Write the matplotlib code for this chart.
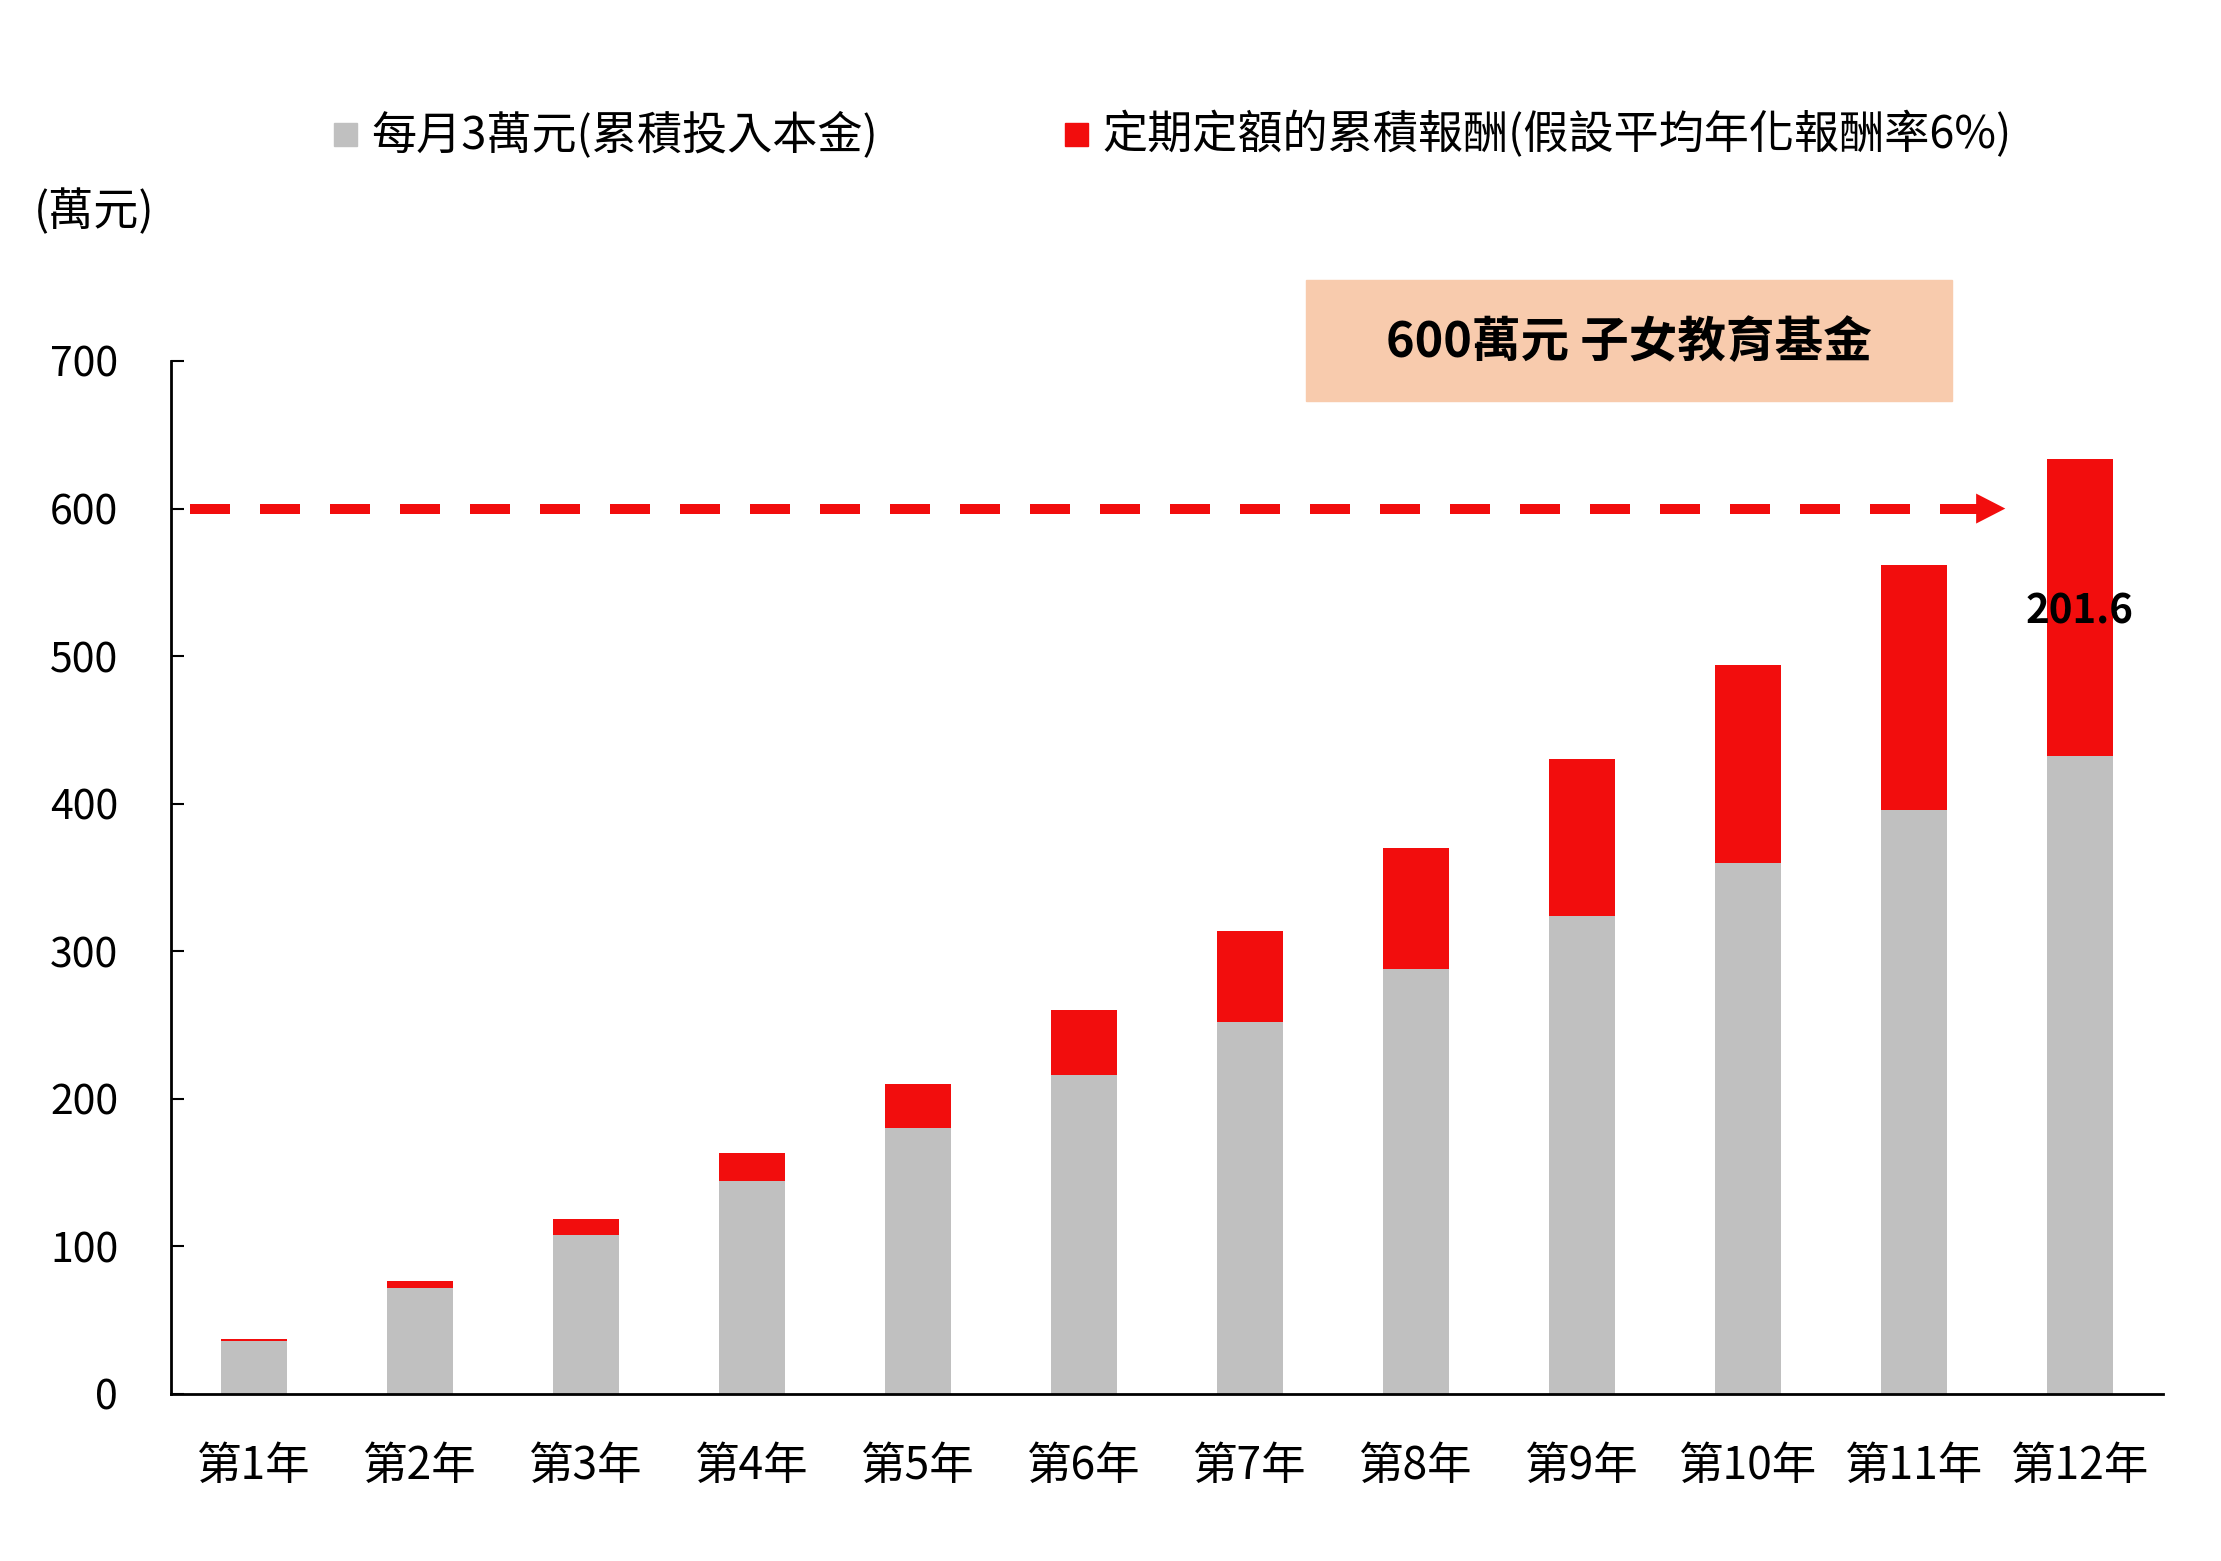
import matplotlib
matplotlib.use("Agg")
import matplotlib.pyplot as plt
from matplotlib.patches import Rectangle

plt.rcParams['font.family'] = ['Noto Sans CJK TC', 'DejaVu Sans']

# data
years = ['第1年', '第2年', '第3年', '第4年', '第5年', '第6年',
         '第7年', '第8年', '第9年', '第10年', '第11年', '第12年']
principal = [36, 72, 108, 144, 180, 216, 252, 288, 324, 360, 396, 432]
returns = [1.2, 4.7, 10.6, 19.1, 30.3, 44.5, 61.8, 82.3, 106.4, 134.1, 165.8, 201.6]
yticks = [0, 100, 200, 300, 400, 500, 600, 700]
goal = 600

label_principal = '每月3萬元(累積投入本金)'
label_returns = '定期定額的累積報酬(假設平均年化報酬率6%)'
goal_text = '600萬元 子女教育基金'

gray = '#C0C0C0'
red = '#F20D0D'

W, H = 2221, 1561
fig = plt.figure(figsize=(W / 100, H / 100), dpi=100)
ax = fig.add_axes([171 / W, 1 - 1394 / H, 1992 / W, 1033 / H])

x = list(range(len(years)))
ax.bar(x, principal, width=0.4, color=gray, zorder=2)
ax.bar(x, returns, width=0.4, bottom=principal, color=red, zorder=2)

# label on the last return segment
ax.text(x[-1], principal[-1] + returns[-1] / 2, f'{returns[-1]:.1f}',
        ha='center', va='center_baseline', fontsize=29, fontweight='bold', color='black', zorder=4)

# 600 goal dashed arrow
ax.plot([-0.385, 10.38], [goal, goal], color=red, lw=7.2,
        dashes=(4, 3), dash_capstyle='butt', solid_capstyle='butt', zorder=3)
ax.annotate('', xy=(10.55, goal), xytext=(10.37, goal),
            arrowprops=dict(arrowstyle='-|>,head_length=21,head_width=10.8',
                            mutation_scale=1, lw=0, color=red,
                            shrinkA=0, shrinkB=0), zorder=3)

ax.set_xlim(-0.5, len(years) - 0.5)
ax.set_ylim(0, 700)
ax.set_yticks(yticks)
ax.set_xticks(x)
ax.set_xticklabels(years)
ax.tick_params(axis='y', direction='in', length=9.5, width=1.5, pad=38, labelsize=29.5)
ax.tick_params(axis='x', length=0, pad=35, labelsize=32)
for s in ['top', 'right']:
    ax.spines[s].set_visible(False)
for s in ['left', 'bottom']:
    ax.spines[s].set_linewidth(2)

# legend drawn by hand
fig.patches.append(Rectangle((334 / W, 1 - 146 / H), 23 / W, 23 / H,
                             transform=fig.transFigure, color=gray))
fig.text(371 / W, 1 - 135 / H, label_principal, fontsize=32.5, va='center', ha='left')
fig.patches.append(Rectangle((1065 / W, 1 - 146 / H), 23 / W, 23 / H,
                             transform=fig.transFigure, color=red))
fig.text(1102 / W, 1 - 135 / H, label_returns, fontsize=32.5, va='center', ha='left')

# unit
fig.text(34 / W, 1 - 212 / H, '(萬元)', fontsize=32.5, va='center', ha='left')

# goal box
fig.patches.append(Rectangle((1306 / W, 1 - 401 / H), 646 / W, 121 / H,
                             transform=fig.transFigure, color='#F8CBAD'))
fig.text(1629 / W, 1 - 343 / H, goal_text, fontsize=35, fontweight='bold',
         va='center', ha='center')

fig.savefig('out.png', dpi=100, facecolor='white')
